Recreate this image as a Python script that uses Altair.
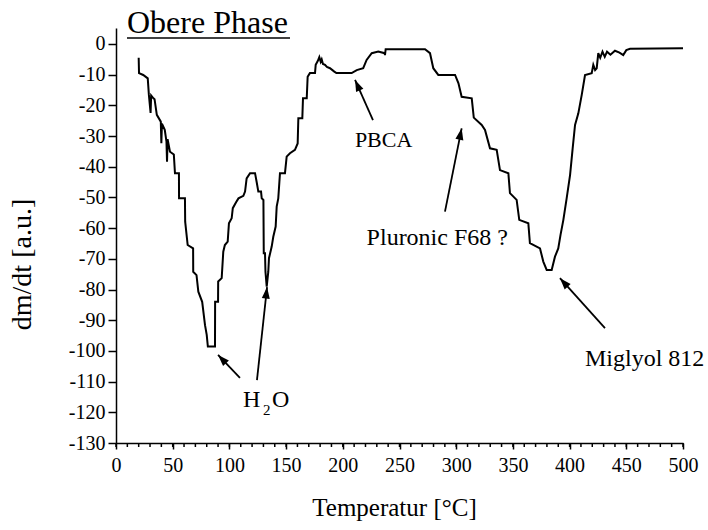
import math
import altair as alt
import pandas as pd

# ---- curve data (Temperatur [°C], dm/dt [a.u.]) ----
temp = [20, 20.3, 24, 28, 29, 30.5, 31, 33, 34, 36, 39.5, 40, 40.5, 43, 44.5, 45, 45.5,
        47.6, 51, 52, 55.5, 55.6, 60.8, 61, 63.2, 68, 68.1, 71, 72.6, 76, 78.5, 80, 81,
        87.3, 87.4, 90, 90.1, 93.2, 94.6, 96, 98.5, 99.6, 102, 103, 106, 108, 112.3, 113.8,
        115.2, 118.2, 122.6, 124, 125.5, 127.9, 128.5, 130, 130.3, 131.4, 131.8, 132.9,
        134.3, 134.9, 137.3, 138.7, 140.8, 141.7, 143.1, 144.6, 149, 150.5, 153.4, 157.8,
        160.2, 160.8, 164.3, 164.9, 168.2, 169, 171, 175.5, 176.1, 178, 179.3, 180.5, 181.4,
        182.5, 184.3, 186, 188.7, 192.5, 194.4, 207.8, 212.3, 218, 221, 225.5, 231.3, 236.8,
        237.2, 237.8, 272.5, 276.9, 279.8, 284.2, 299, 302, 304.8, 313.7, 315.5, 322.5,
        325.4, 329.8, 335.7, 338.6, 346, 347.4, 353.3, 355.6, 363.6, 365, 373.9, 376.8,
        379.8, 384.2, 387.1, 390, 392, 394.5, 397.4, 400.4, 402.7, 404.8, 407.7, 410.7,
        413.6, 419.5, 420.9, 422.5, 423.9, 425.3, 427, 429, 431, 433, 436, 440, 444, 447.3,
        450, 453.3, 500]
dmdt = [-4.5, -9.5, -10.1, -11.2, -16.6, -22.5, -16.8, -17.7, -18, -23.1, -25.3, -32.3,
        -26, -28, -31.8, -38.4, -31, -35.1, -36, -42.1, -42.1, -50.3, -50.3, -57.9, -65.5,
        -66.6, -74.2, -75.3, -80.7, -84, -91.6, -94.8, -98.6, -98.6, -84, -84, -77.4, -76.3,
        -67.7, -65.5, -64.4, -58.4, -56.8, -53.5, -51.5, -50.3, -49.5, -48.1, -43.8, -42.1,
        -42.1, -44.9, -48.1, -48.1, -50.3, -50.8, -68.2, -68.2, -74.2, -79.1, -74.2, -69.8,
        -66, -62.8, -59.5, -53, -50.3, -42.1, -42.1, -36.7, -35.6, -34.5, -32.4, -24.2,
        -24.2, -17.7, -17.7, -10.7, -9.5, -9.5, -6.8, -5.5, -4.3, -5.8, -5.0, -6.5, -6.8,
        -7.5, -7.9, -9, -9.5, -9.5, -8.5, -7.9, -5.2, -3, -2.5, -3.0, -3.6, -1.7, -1.7, -3,
        -7.9, -10.1, -10.1, -12.8, -17.2, -17.7, -24.0, -26.4, -28, -34, -34.5, -41.1,
        -42.1, -48.6, -50.8, -57.3, -58.4, -64.9, -66.6, -70.9, -73.6, -73.6, -69.3, -66.6,
        -62.2, -57.3, -50.3, -42.7, -34, -26.4, -22.6, -16.6, -10.1, -9.5, -6.8, -8.5, -7.9,
        -3, -4.5, -2.5, -4.2, -2.5, -3.5, -2.2, -2.8, -3.6, -2, -1.6, -1.4]

x_ticks = list(range(0, 501, 50))
x_minor = list(range(0, 501, 10))
y_ticks = list(range(-130, 1, 10))

# ---- annotations ----
arrow_x1 = [109.3, 124.3, 226.6, 290.1, 431.2]
arrow_y1 = [-108.8, -109.5, -24.8, -54.6, -92.6]
arrow_x2 = [90.0, 133.2, 210.8, 304.8, 391.5]
arrow_y2 = [-101.3, -79.2, -11.7, -27.5, -76.3]

label_text = ["H", "O", "Pluronic F68 ?", "Miglyol 812"]
label_x = [112, 137.6, 221, 413.6]
label_y = [-118.3, -118.3, -65.5, -104.9]
center_text = ["PBCA"]
center_x = [236]
center_y = [-33.5]
sub_text = ["2"]
sub_x = [129.6]
sub_y = [-120.9]

W, H = 567, 415
XD = [0, 500]
YD = [-130, 5.2]
sx = W / (XD[1] - XD[0])
sy = H / (YD[1] - YD[0])
FONT = "Liberation Serif"

curve = pd.DataFrame({"T": temp, "v": dmdt})
arrows = pd.DataFrame({"x1": arrow_x1, "y1": arrow_y1, "x2": arrow_x2, "y2": arrow_y2})
arrows["ang"] = [
    (math.degrees(math.atan2((b - a) * sx, (d - c) * sy)) + 360) % 360
    for a, b, c, d in zip(arrow_x1, arrow_x2, arrow_y1, arrow_y2)
]
labels = pd.DataFrame({"t": label_text, "x": label_x, "y": label_y})
clabels = pd.DataFrame({"t": center_text, "x": center_x, "y": center_y})
subs = pd.DataFrame({"t": sub_text, "x": sub_x, "y": sub_y})
minor = pd.DataFrame({"x": x_minor})

xs = alt.Scale(domain=XD, nice=False, zero=False)
ys = alt.Scale(domain=YD, nice=False, zero=False)

x_axis = alt.Axis(
    values=x_ticks, tickSize=6, labelFontSize=20, labelPadding=6, grid=False,
    labelOverlap=False, title="Temperatur [°C]", titleFontSize=25,
    titleFontWeight="normal", titleX=278, titleY=64, titleBaseline="middle",
    labelFlush=False)
y_axis = alt.Axis(
    values=y_ticks, tickSize=8, labelFontSize=20, labelPadding=3, grid=False,
    labelOverlap=False, labelExpr="'' + datum.value",
    title="dm/dt [a.u.]", titleFontSize=28, titleFontWeight="normal",
    titleX=-94, titleY=236, titleBaseline="middle", labelFlush=False)


def X(f):
    return alt.X(f, scale=xs, axis=x_axis, title="Temperatur [°C]")


def Y(f):
    return alt.Y(f, scale=ys, axis=y_axis, title="dm/dt [a.u.]")


line = alt.Chart(curve).mark_line(color="black", strokeWidth=2, interpolate="linear").encode(
    x=X("T:Q"), y=Y("v:Q"))

minor_ticks = alt.Chart(minor).mark_rule(color="black", strokeWidth=1.5).encode(
    x=X("x:Q"), y=alt.value(H), y2=alt.value(H + 4))

arrow_lines = alt.Chart(arrows).mark_rule(color="black", strokeWidth=1.8).encode(
    x=X("x1:Q"), y=Y("y1:Q"), x2="x2:Q", y2="y2:Q")

arrow_heads = alt.Chart(arrows).mark_point(
    shape="M0,0 L-0.8,2.3 L0.8,2.3 Z", filled=True, color="black", opacity=1, size=100
).encode(x=X("x2:Q"), y=Y("y2:Q"), angle=alt.Angle("ang:Q", scale=None))

texts = alt.Chart(labels).mark_text(font=FONT, fontSize=24, baseline="alphabetic", align="left", color="black").encode(
    x=X("x:Q"), y=Y("y:Q"), text="t:N")

ctexts = alt.Chart(clabels).mark_text(font=FONT, fontSize=22, baseline="alphabetic", align="center", color="black").encode(
    x=X("x:Q"), y=Y("y:Q"), text="t:N")

sub = alt.Chart(subs).mark_text(font=FONT, fontSize=15, baseline="alphabetic", align="left", color="black").encode(
    x=X("x:Q"), y=Y("y:Q"), text="t:N")

title_txt = alt.Chart(pd.DataFrame({"t": ["Obere Phase"]})).mark_text(
    font=FONT, fontSize=32, align="left", baseline="alphabetic", color="black").encode(
    x=alt.value(11), y=alt.value(5), text="t:N")

underline = alt.Chart(pd.DataFrame({"t": ["Obere Phase"]})).mark_rule(color="black", strokeWidth=1.5).encode(
    x=alt.value(11), x2=alt.value(174), y=alt.value(10))

chart = alt.layer(line, minor_ticks, arrow_lines, arrow_heads, texts, ctexts, sub, title_txt, underline).properties(
    width=W, height=H,
    autosize=alt.AutoSizeParams(type="none"),
    padding={"left": 116, "top": 28, "right": 25, "bottom": 87},
).configure(font=FONT).configure_view(stroke=None).configure_axis(
    domainColor="black", domainWidth=1.5, tickColor="black", tickWidth=1.5,
    labelColor="black", titleColor="black", labelFont=FONT, titleFont=FONT,
)

chart.save("out.html", embed_options={"renderer": "svg", "actions": False})
